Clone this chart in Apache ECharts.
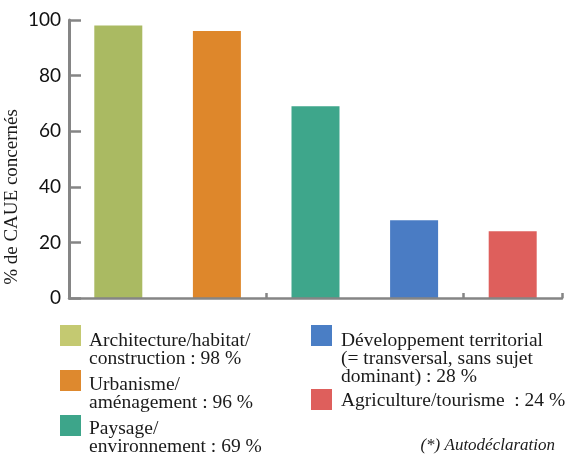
<!DOCTYPE html>
<html>
<head>
<meta charset="utf-8">
<script src="https://cdn.jsdelivr.net/npm/echarts@6/dist/echarts.min.js"></script>
<style>
html,body{margin:0;padding:0;background:#fff;}
#c{width:574px;height:455px;}
</style>
</head>
<body>
<div id="c"></div>
<script>
const categories = [
  "Architecture/habitat/\nconstruction",
  "Urbanisme/\naménagement",
  "Paysage/\nenvironnement",
  "Développement territorial\n(= transversal, sans sujet\ndominant)",
  "Agriculture/tourisme "
];
const values = [98, 96, 69, 28, 24];
const barColors = ["#AABA62", "#DE872B", "#3EA68B", "#4A7CC4", "#DE5F5C"];
const legendColors = ["#C4C971", "#DE892E", "#3DA58A", "#4A7EC5", "#DE5F5C"];
const yTicks = [0, 20, 40, 60, 80, 100];
const yAxisName = "% de CAUE concernés";
const footnote = "(*) Autodéclaration";

const chart = echarts.init(document.getElementById('c'), null, {renderer: 'canvas'});
const axisColor = "#858585";
const serif = "'Liberation Serif', 'DejaVu Serif', serif";

// legend layout (positions only)
const legendPos = [
  {x: 60, y: 325, tx: 89, ty: 331},
  {x: 60, y: 370, tx: 89, ty: 375},
  {x: 60, y: 415, tx: 89, ty: 419},
  {x: 311, y: 325, tx: 341, ty: 331},
  {x: 311, y: 389, tx: 341, ty: 391}
];
const graphics = [];
categories.forEach((c, i) => {
  const p = legendPos[i];
  graphics.push({type: 'rect', left: p.x, top: p.y, shape: {width: 21, height: 21}, style: {fill: legendColors[i]}});
  graphics.push({type: 'text', left: p.tx, top: p.ty, style: {
    text: c + " : " + values[i] + " %", font: "19.5px " + serif, fill: "#1a1a1a", lineHeight: 18
  }});
});
graphics.push({type: 'text', right: 19, top: 437, style: {
  text: footnote, font: "italic 17px " + serif, fill: "#1a1a1a"
}});
graphics.push({type: 'text', x: 12, y: 197, rotation: Math.PI / 2, style: {
  text: yAxisName, font: "19px " + serif, fill: "#1a1a1a", align: 'center', verticalAlign: 'middle'
}});

chart.setOption({
  animation: false,
  grid: {left: 69, right: 12, top: 20, bottom: 157, containLabel: false, outerBoundsMode: 'none'},
  xAxis: {
    type: 'category',
    z: 5,
    data: categories,
    axisLine: {show: true, lineStyle: {color: axisColor, width: 2.5}},
    axisTick: {show: true, inside: true, length: 5, lineStyle: {color: axisColor, width: 2.5}},
    axisLabel: {show: false},
    splitLine: {show: false}
  },
  yAxis: {
    type: 'value',
    z: 5,
    position: 'left',
    min: yTicks[0], max: yTicks[yTicks.length - 1], interval: yTicks[1] - yTicks[0],
    axisLine: {show: true, onZero: false, lineStyle: {color: axisColor, width: 3}},
    axisTick: {show: true, inside: true, length: 12, lineStyle: {color: axisColor, width: 2.5}},
    axisLabel: {margin: 8, fontFamily: "Lato, 'Open Sans', sans-serif", fontSize: 19, color: "#111"},
    splitLine: {show: false}
  },
  series: [{
    type: 'bar',
    barWidth: 48,
    data: values.map((v, i) => ({value: v, itemStyle: {color: barColors[i]}}))
  }],
  graphic: graphics
});
</script>
</body>
</html>
